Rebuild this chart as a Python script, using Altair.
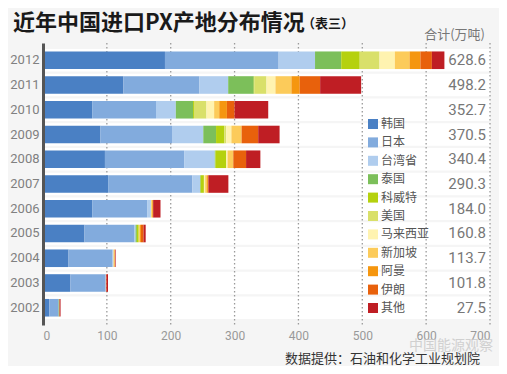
import altair as alt
import pandas as pd

years = [2002, 2003, 2004, 2005, 2006, 2007, 2008, 2009, 2010, 2011, 2012]
countries = ["韩国", "日本", "台湾省", "泰国", "科威特", "美国", "马来西亚", "新加坡", "阿曼", "伊朗", "其他"]
colors = ["#4a80c4", "#82abdd", "#b0cdee", "#7cbf5a", "#b5d10e", "#d9e06a",
          "#fff3b0", "#fccb5a", "#f5960f", "#e8610c", "#bf1e24"]

korea     = [10, 43, 40, 65, 77, 102, 97, 90, 77, 126, 191]
japan     = [14.5, 55, 69, 77.5, 86, 132, 124, 112, 100, 119, 178]
taiwan    = [0, 0.5, 1.5, 2.5, 6, 12, 48, 49, 31, 45, 57]
thailand  = [0.5, 0, 0, 2, 0, 1, 1, 20, 27, 40, 41]
kuwait    = [0.8, 0, 0, 3, 0, 5, 17, 13, 1.5, 1, 29]
usa       = [0, 0, 0, 0, 0, 0, 0, 3, 19.5, 19, 31]
malaysia  = [0, 0, 0, 0.5, 0.5, 2, 2, 8, 12, 14, 24]
singapore = [0, 0, 1.5, 1.5, 1.5, 3, 9, 16, 8, 25, 23]
oman      = [0, 0, 0.7, 1.5, 1.5, 1.5, 0, 0, 12, 13, 17]
iran      = [0, 1, 0, 4, 0, 0.5, 20, 26, 12, 32, 18]
others    = [1.7, 2.3, 1, 3.3, 11.5, 31.3, 22.4, 33.5, 52.7, 64.2, 19.6]
totals    = [27.5, 101.8, 113.7, 160.8, 184.0, 290.3, 340.4, 370.5, 352.7, 498.2, 628.6]
x_ticks   = [0, 100, 200, 300, 400, 500, 600, 700]

series = [korea, japan, taiwan, thailand, kuwait, usa, malaysia, singapore, oman, iran, others]

rows = []
for ci, (name, vals) in enumerate(zip(countries, series)):
    for y, v in zip(years, vals):
        if v > 0:
            rows.append({"year": str(y), "country": name, "value": v, "idx": ci})
df = pd.DataFrame(rows)
tot_df = pd.DataFrame({"year": [str(y) for y in years], "total": totals})
tick_df = pd.DataFrame({"tick": x_ticks[1:]})
one = pd.DataFrame({"a": [0]})

year_order = [str(y) for y in reversed(years)]
yscale = alt.Scale(paddingInner=0.1, paddingOuter=0.247)
xscale = alt.Scale(domain=[0, 700], nice=False)

Y = alt.Y("year:N", sort=year_order, scale=yscale,
          axis=alt.Axis(title=None, ticks=False, domainColor="#555", domainWidth=3,
                        labelColor="#808080", labelFontSize=13, labelFont="Roboto",
                        labelPadding=4, zindex=1))

bands = alt.Chart(tot_df).mark_bar(color="white").encode(
    y=Y, x=alt.datum(0, scale=xscale), x2=alt.datum(700)
)

grid = alt.Chart(tick_df).mark_rule(color="#9a9a9a", strokeDash=[1.5, 2.5], strokeWidth=1.3).encode(
    x=alt.X("tick:Q", scale=xscale)
)

bars = alt.Chart(df).mark_bar(height={"band": 0.79}).encode(
    y=Y,
    x=alt.X("value:Q", stack="zero", scale=xscale,
            axis=alt.Axis(values=x_ticks, grid=False, ticks=False, domain=False,
                          labelColor="#999", labelFontSize=12, labelFont="Roboto",
                          labelPadding=5, title=None)),
    color=alt.Color("country:N", scale=alt.Scale(domain=countries, range=colors),
                    legend=alt.Legend(orient="none", legendX=324, legendY=75, title=None,
                                      symbolType="square", symbolSize=100, symbolStrokeWidth=0,
                                      labelFontSize=12, labelColor="#555",
                                      labelFont="Noto Sans CJK SC", rowPadding=6.4,
                                      labelOffset=2)),
    order=alt.Order("idx:Q", sort="ascending"),
)

tot_text = alt.Chart(tot_df).mark_text(align="right", dx=-4, fontSize=15, color="#777",
                                       font="Roboto").encode(
    y=Y, x=alt.datum(700), text=alt.Text("total:Q", format=".1f")
)

def note(txt, x, y, **kw):
    return alt.Chart(one).mark_text(text=txt, **kw).encode(x=alt.value(x), y=alt.value(y))

title = note("近年中国进口PX产地分布情况", -30, -20, align="left", baseline="middle",
             fontSize=22, fontWeight="bold", color="#1a1a1a", font="Noto Sans CJK SC")
sub = note("（表三）", 259, -19, align="left", baseline="middle",
           fontSize=13, fontWeight="bold", color="#1a1a1a", font="Noto Sans CJK SC")
unit = note("合计(万吨)", 442, -8, align="right", baseline="middle",
            fontSize=13, color="#777", font="Noto Sans CJK SC")
source = note("数据提供：石油和化学工业规划院", 437, 316, align="right", baseline="middle",
              fontSize=13, color="#333", font="Noto Sans CJK SC")
mark_wm = note("中国能源观察", 450, 303, align="right", baseline="middle",
               fontSize=14, color="#c8c8c8", opacity=0.8, font="Noto Sans CJK SC")

chart = alt.layer(bands, grid, bars, tot_text, title, sub, unit, mark_wm, source).properties(
    width=447, height=282, background="#f5f5f5",
    autosize=alt.AutoSizeParams(type="none"),
    padding={"left": 35, "top": 35, "right": 9, "bottom": 41},
).configure_view(stroke=None)

chart.save("out.html", embed_options={"renderer": "svg", "actions": False})
